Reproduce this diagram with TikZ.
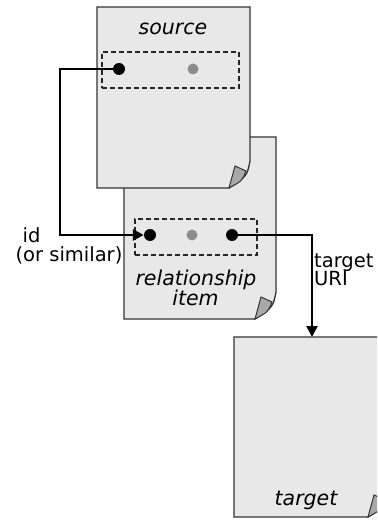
\documentclass[tikz,border=0pt]{standalone}
\usepackage{fontspec}
\setmainfont{DejaVu Sans}
\usetikzlibrary{arrows.meta}
\definecolor{pagefill}{HTML}{E8E8E8}
\definecolor{pageline}{HTML}{333333}
\definecolor{flapfill}{HTML}{A8A8A8}
\definecolor{dotgray}{HTML}{8C8C8C}
\tikzset{
  pageshape/.style={fill=pagefill, draw=pageline, line width=1.3pt, line join=miter},
  flapshape/.style={fill=flapfill, draw=pageline, line width=1pt},
  dashbox/.style={draw=black!85, dashed, dash pattern=on 5pt off 3pt, line width=1.4pt, minimum width=#1, minimum height=36pt, inner sep=0pt},
  blackdot/.style={circle, fill=black, minimum size=12pt, inner sep=0pt},
  graydot/.style={circle, fill=dotgray, minimum size=11pt, inner sep=0pt},
  lbl/.style={inner sep=0pt, font=\fontsize{19.5}{21}\selectfont},
  ilbl/.style={inner sep=0pt, font=\fontsize{20.5}{22}\selectfont\itshape},
  conn/.style={draw=black, line width=2.6pt, line join=miter},
  tip/.style={-{Triangle[length=11pt,width=11pt]}}
}
\newcommand\docpage[4]{%
  \path[pageshape] (#1,#2) -- (#3,#2) -- (#3,{#4-27}) .. controls ({#3-3},{#4-12}) .. ({#3-21},#4) -- (#1,#4) -- cycle;
  \path[flapshape] ({#3-21},#4) -- ({#3-15},{#4-22}) -- ({#3-4},{#4-17}) .. controls ({#3-8},{#4-7}) .. ({#3-21},#4) -- cycle;
}
\begin{document}
\begin{tikzpicture}[x=1pt,y=-1pt]
\useasboundingbox (0,0) rectangle (377,521);
\clip (0,0) rectangle (377,521);
\fill[white] (0,0) rectangle (377,521);
% pages
\docpage{124}{137}{276}{319}
\docpage{97}{7}{250}{188}
\docpage{234}{337}{389}{517}
% dashed boxes
\node[dashbox=137pt] (sbox) at (170.5,70) {};
\node[dashbox=122pt] (rbox) at (196,237) {};
% dots
\node[blackdot] (s1) at (119,69) {};
\node[graydot] (s2) at (193,69) {};
\node[blackdot] (r1) at (150,235) {};
\node[graydot] (r2) at (192,235) {};
\node[blackdot] (r3) at (232,235) {};
% texts
\node[ilbl, anchor=base] (tsource) at (173,35) {source};
\node[ilbl, anchor=base] (trel) at (196,285) {relationship};
\node[ilbl, anchor=base] (titem) at (195.5,305) {item};
\node[ilbl, anchor=base] (ttarget) at (306,505) {target};
\node[lbl, anchor=base] (tid) at (31.5,242) {id};
\node[lbl, anchor=base] (tsim) at (69,261) {(or similar)};
\node[lbl, anchor=base west] (tt) at (314,267) {target};
\node[lbl, anchor=base west] (turi) at (314,285) {URI};
% connectors
\coordinate (lbend) at (60,69);
\coordinate (ttop) at (312,337);
\draw[conn, tip] (s1.center) -- (lbend) |- (r1.west);
\draw[conn, tip] (r3.center) -| (ttop);
\end{tikzpicture}
\end{document}
